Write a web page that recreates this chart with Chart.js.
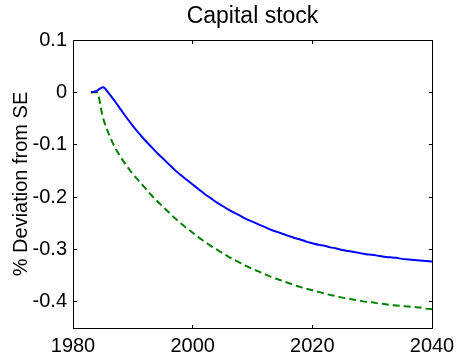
<!DOCTYPE html>
<html>
<head>
<meta charset="utf-8">
<title>Capital stock</title>
<script src="https://cdn.jsdelivr.net/npm/chart.js@4/dist/chart.umd.min.js"></script>
<style>
  html, body { margin: 0; padding: 0; background: #ffffff; }
  #wrap { width: 458px; height: 354px; }
  canvas { display: block; }
</style>
</head>
<body>
<div id="wrap"><canvas id="chart" width="458" height="354"></canvas></div>
<script>
// Simulation years
const years = [
  1983, 1984, 1985, 1986, 1987, 1988, 1989, 1990, 1991, 1992,
  1993, 1994, 1995, 1996, 1997, 1998, 1999, 2000, 2001, 2002,
  2003, 2004, 2005, 2006, 2007, 2008, 2009, 2010, 2011, 2012,
  2013, 2014, 2015, 2016, 2017, 2018, 2019, 2020, 2021, 2022,
  2023, 2024, 2025, 2026, 2027, 2028, 2029, 2030, 2031, 2032,
  2033, 2034, 2035, 2036, 2037, 2038, 2039, 2040
];

// Capital stock, % deviation from steady state (solid blue path)
const capitalSolid = [
   0.000,  0.003,  0.010, -0.002, -0.017, -0.033, -0.049, -0.064, -0.078, -0.091,
  -0.103, -0.115, -0.126, -0.137, -0.148, -0.158, -0.167, -0.176, -0.185, -0.194,
  -0.202, -0.210, -0.217, -0.224, -0.230, -0.236, -0.242, -0.247, -0.252, -0.257,
  -0.262, -0.266, -0.270, -0.274, -0.278, -0.281, -0.285, -0.288, -0.291, -0.293,
  -0.296, -0.298, -0.301, -0.303, -0.305, -0.307, -0.309, -0.310, -0.312, -0.314,
  -0.315, -0.316, -0.318, -0.319, -0.320, -0.321, -0.322, -0.323
];

// Capital stock, % deviation from steady state (dashed green path)
const capitalDashed = [
   0.000,  0.000, -0.048, -0.080, -0.105, -0.124, -0.141, -0.156, -0.169, -0.182,
  -0.195, -0.207, -0.218, -0.229, -0.240, -0.250, -0.259, -0.268, -0.277, -0.285,
  -0.293, -0.300, -0.307, -0.314, -0.320, -0.326, -0.332, -0.337, -0.342, -0.347,
  -0.352, -0.356, -0.360, -0.364, -0.368, -0.372, -0.375, -0.378, -0.381, -0.384,
  -0.387, -0.389, -0.392, -0.394, -0.396, -0.398, -0.400, -0.401, -0.403, -0.404,
  -0.406, -0.407, -0.408, -0.409, -0.410, -0.411, -0.413, -0.414
];

// Axis ticks
const xTicks = [1980, 2000, 2020, 2040];
const yTicks = [-0.4, -0.3, -0.2, -0.1, 0, 0.1];

const FONT = '"Liberation Sans", Arial, Helvetica, sans-serif';

const toPoints = vals => years.map((yr, i) => ({ x: yr, y: vals[i] }));

// Center the title over the plotting area rather than the whole canvas
const titleOverPlot = {
  id: 'titleOverPlot',
  afterLayout(chart) {
    const tb = chart.titleBlock;
    if (!tb) return;
    tb.left = chart.chartArea.left;
    tb.right = chart.chartArea.right;
    tb.width = tb.right - tb.left;
  }
};

// Box around the axes with inward-pointing tick marks on all four sides
const axesBox = {
  id: 'axesBox',
  afterDatasetsDraw(chart) {
    const { ctx, chartArea, scales } = chart;
    const L = Math.floor(chartArea.left) + 0.5;
    const R = Math.floor(chartArea.right) + 0.5;
    const T = Math.floor(chartArea.top) + 0.5;
    const B = Math.floor(chartArea.bottom) + 0.5;
    const len = 3.6;
    ctx.save();
    ctx.strokeStyle = '#000000';
    ctx.lineWidth = 1;
    ctx.beginPath();
    xTicks.forEach(v => {
      const px = Math.floor(scales.x.getPixelForValue(v)) + 0.5;
      ctx.moveTo(px, B); ctx.lineTo(px, B - len);
      ctx.moveTo(px, T); ctx.lineTo(px, T + len);
    });
    yTicks.forEach(v => {
      const py = Math.floor(scales.y.getPixelForValue(v)) + 0.5;
      ctx.moveTo(L, py); ctx.lineTo(L + len, py);
      ctx.moveTo(R, py); ctx.lineTo(R - len, py);
    });
    ctx.stroke();
    ctx.strokeRect(L, T, R - L, B - T);
    ctx.restore();
  }
};

new Chart(document.getElementById('chart'), {
  type: 'line',
  data: {
    datasets: [
      {
        data: toPoints(capitalSolid),
        borderColor: '#0000ff',
        borderWidth: 2,
        pointRadius: 0,
        cubicInterpolationMode: 'monotone',
        fill: false
      },
      {
        data: toPoints(capitalDashed),
        borderColor: '#008000',
        borderWidth: 2,
        borderDash: [7, 4],
        pointRadius: 0,
        cubicInterpolationMode: 'monotone',
        fill: false
      }
    ]
  },
  options: {
    responsive: false,
    devicePixelRatio: 1,
    animation: false,
    events: [],
    layout: { padding: { left: 0, right: 26, top: 0, bottom: 0 } },
    plugins: {
      legend: { display: false },
      tooltip: { enabled: false },
      title: {
        display: true,
        text: 'Capital stock',
        color: '#000000',
        font: { family: FONT, size: 23, weight: 'normal', lineHeight: 1.2 },
        padding: { top: 3, bottom: 9.4 }
      }
    },
    scales: {
      x: {
        type: 'linear',
        min: 1980,
        max: 2040,
        grid: { display: false, drawTicks: false },
        border: { display: false },
        afterBuildTicks: s => { s.ticks = xTicks.map(v => ({ value: v })); },
        afterFit: s => {
          s.height = 26;
          s.paddingLeft = 0;
          s.paddingRight = 0;
        },
        ticks: {
          color: '#000000',
          padding: 6,
          maxRotation: 0,
          autoSkip: false,
          font: { family: FONT, size: 20 },
          callback: v => String(v)
        }
      },
      y: {
        type: 'linear',
        min: -0.45,
        max: 0.1,
        grid: { display: false, drawTicks: false },
        border: { display: false },
        afterBuildTicks: s => { s.ticks = yTicks.map(v => ({ value: v })); },
        afterFit: s => {
          s.width = 73;
          s.paddingTop = 0;
          s.paddingBottom = 0;
        },
        ticks: {
          color: '#000000',
          padding: 6,
          autoSkip: false,
          font: { family: FONT, size: 20 },
          callback: v => (Math.abs(v) < 1e-9 ? '0' : v.toFixed(1))
        },
        title: {
          display: true,
          text: '% Deviation from SE',
          color: '#000000',
          font: { family: FONT, size: 20 },
          padding: { top: 9, bottom: 0 }
        }
      }
    }
  },
  plugins: [titleOverPlot, axesBox]
});
</script>
</body>
</html>
